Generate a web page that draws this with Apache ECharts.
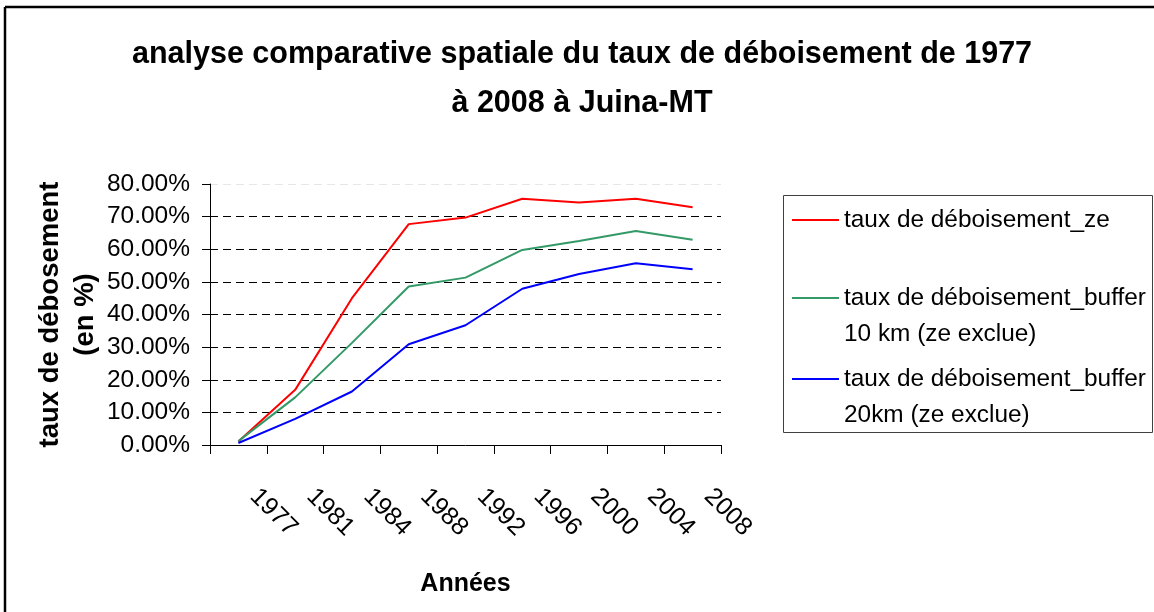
<!DOCTYPE html>
<html>
<head>
<meta charset="utf-8">
<script src="https://cdn.jsdelivr.net/npm/echarts@6/dist/echarts.min.js"></script>
<style>html,body{margin:0;padding:0;background:#fff}#c{width:1154px;height:612px}</style>
</head>
<body>
<div id="c"></div>
<script>
const years = ['1977','1981','1984','1988','1992','1996','2000','2004','2008'];
const seriesNames = ['taux de déboisement_ze', 'taux de déboisement_buffer\n10 km (ze exclue)', 'taux de déboisement_buffer\n20km (ze exclue)'];
const zeValues = [1.1, 16.9, 45.0, 67.7, 69.7, 75.5, 74.3, 75.5, 72.9];
const buffer10Values = [1.2, 14.6, 31.3, 48.6, 51.3, 59.8, 62.5, 65.6, 62.9];
const buffer20Values = [0.6, 8.0, 16.4, 30.9, 36.7, 47.9, 52.4, 55.7, 53.9];
const colors = ['#FF0000', '#339966', '#0000FF'];
const titleText = 'analyse comparative spatiale du taux de déboisement de 1977\nà 2008 à Juina-MT';
const yName = 'taux de débosement\n(en %)';
const xName = 'Années';

const FONT = "'Liberation Sans', Arial, sans-serif";
const chart = echarts.init(document.getElementById('c'));
const values = [zeValues, buffer10Values, buffer20Values];

function legendFor(i, top) {
  return {
    data: [seriesNames[i]],
    left: 792, top: top, padding: 0,
    icon: 'rect', itemWidth: 47, itemHeight: 2, itemGap: 0,
    selectedMode: false,
    formatter: name => name.indexOf('\n') >= 0 ? ' \n' + name : name,
    textStyle: { fontFamily: FONT, fontSize: 24.4, color: '#000', lineHeight: 36 }
  };
}

chart.setOption({
  backgroundColor: '#fff',
  animation: false,
  title: {
    text: titleText, left: 582, textAlign: 'center', top: 30, padding: 0,
    textStyle: { fontFamily: FONT, fontSize: 30.5, fontWeight: 'bold', color: '#000', lineHeight: 49 }
  },
  graphic: [
    { type: 'line', shape: { x1: 5, y1: 7, x2: 5, y2: 612 }, style: { stroke: '#000', lineWidth: 2.5 } },
    { type: 'line', shape: { x1: 5, y1: 7, x2: 1154, y2: 7 }, style: { stroke: '#000', lineWidth: 2.5 } },
    { type: 'rect', shape: { x: 783.5, y: 195.5, width: 369, height: 237 }, style: { fill: 'none', stroke: '#404040', lineWidth: 1 }, z: -1 }
  ],
  legend: [legendFor(0, 202), legendFor(1, 244), legendFor(2, 325)],
  grid: { left: 210, right: 433, top: 184, bottom: 167 },
  xAxis: {
    type: 'category', data: years, boundaryGap: true,
    name: xName, nameLocation: 'middle', nameGap: 127,
    nameTextStyle: { fontFamily: FONT, fontSize: 25, fontWeight: 'bold', color: '#000' },
    axisLine: { lineStyle: { color: '#000', width: 1 } },
    axisTick: { show: true, length: 9, lineStyle: { color: '#000' } },
    axisLabel: { rotate: -45, margin: 32, fontFamily: FONT, fontSize: 25, color: '#000', padding: [0, 0, 0, 22] }
  },
  yAxis: {
    type: 'value', min: 0, max: 80, interval: 10,
    name: yName, nameLocation: 'middle', nameGap: 106, nameRotate: 90,
    nameTextStyle: { fontFamily: FONT, fontSize: 27.5, fontWeight: 'bold', color: '#000', lineHeight: 35 },
    axisLine: { show: true, lineStyle: { color: '#000', width: 1 } },
    axisTick: { show: true, length: 8, lineStyle: { color: '#000' } },
    axisLabel: { margin: 20, fontFamily: FONT, fontSize: 24.5, color: '#000', formatter: v => v.toFixed(2) + '%' },
    splitLine: { show: true, lineStyle: { color: ['#000','#000','#000','#000','#000','#000','#000','#000','#e6e6e6'], type: [8, 5], width: 1 } }
  },
  series: values.map((v, i) => ({
    name: seriesNames[i], type: 'line', data: v, symbol: 'none',
    lineStyle: { color: colors[i], width: 2 }, itemStyle: { color: colors[i] }
  }))
});
</script>
</body>
</html>
